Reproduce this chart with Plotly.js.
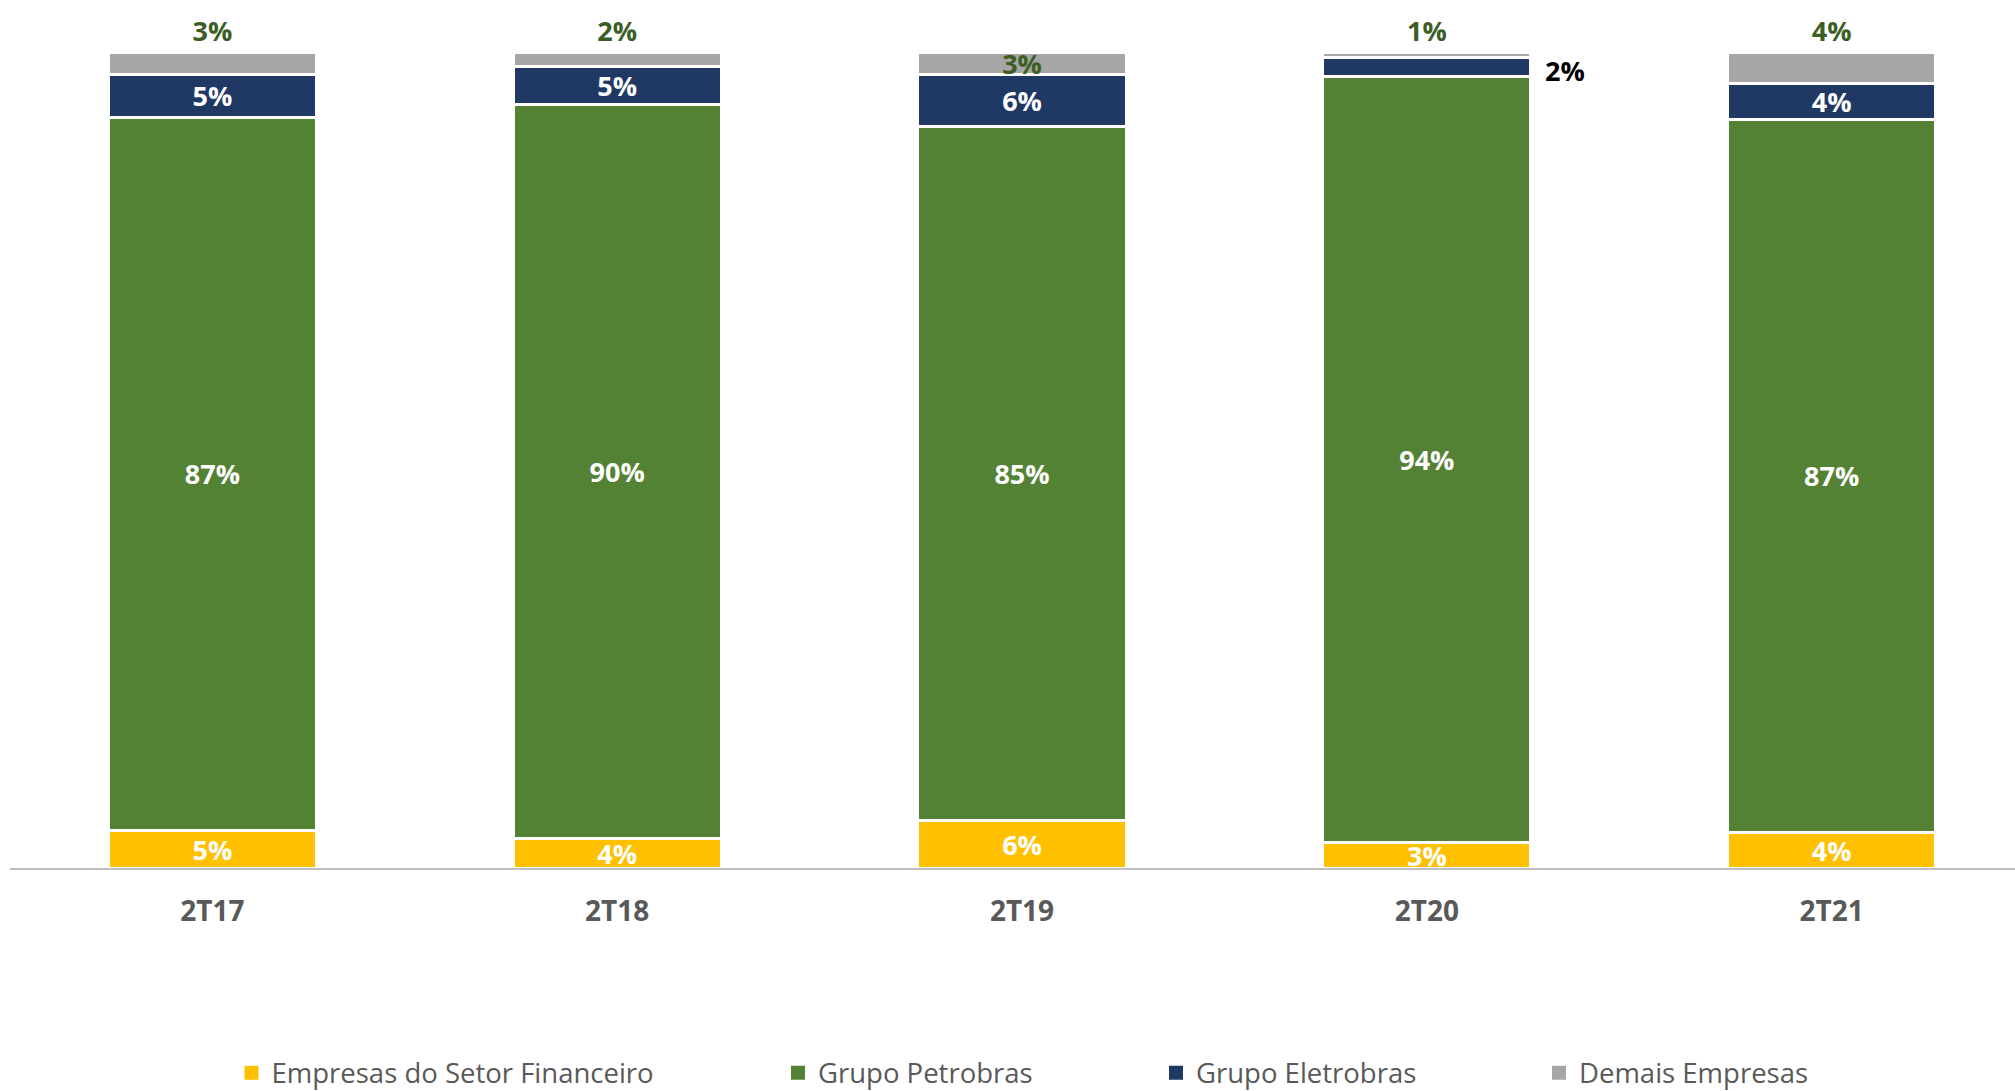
<!DOCTYPE html>
<html><head><meta charset="utf-8">
<script src="https://cdn.plot.ly/plotly-3.0.1.min.js"></script>
<style>html,body{margin:0;padding:0;background:#fff;} #chart{width:2015px;height:1091px;}</style>
</head><body><div id="chart"></div>
<script>
const categories = ['2T17', '2T18', '2T19', '2T20', '2T21'];
const financeiro = [4.625, 3.625, 5.875, 3.125, 4.375];
const petrobras  = [87.375, 90.0, 85.0, 93.875, 87.375];
const eletrobras = [5.25, 4.625, 6.375, 2.375, 4.375];
const demais     = [2.75, 1.75, 2.75, 0.625, 3.875];
const seriesNames = ['Empresas do Setor Financeiro', 'Grupo Petrobras', 'Grupo Eletrobras', 'Demais Empresas'];
const seriesColors = ['#FFC000', '#548235', '#203864', '#A6A6A6'];

const FONT = '"Open Sans", "Noto Sans", sans-serif';
const labelFont = (c) => ({family: FONT, size: 27, color: c, weight: 700});
const plotLeft = 10, plotWidth = 2005;
const legendX = (iconCenter) => (iconCenter - 21 - plotLeft) / plotWidth;

function barTrace(vals, idx, textpos, txtColor) {
  return {
    type: 'bar', x: categories, y: vals, name: seriesNames[idx],
    marker: {color: seriesColors[idx], line: {color: '#FFFFFF', width: 3}},
    width: 0.514,
    texttemplate: '%{y:.0f}%',
    textposition: textpos,
    insidetextanchor: 'middle',
    constraintext: 'none',
    textangle: 0,
    cliponaxis: false,
    textfont: labelFont(txtColor),
    insidetextfont: labelFont(txtColor),
    outsidetextfont: labelFont(txtColor),
    hoverinfo: 'skip',
    showlegend: false
  };
}

// legend keys (square swatches), one per series, each in its own legend box
function legendKey(idx, legendId) {
  return {
    type: 'scatter', mode: 'markers', x: [null], y: [null],
    name: seriesNames[idx],
    marker: {symbol: 'square', size: 14, color: seriesColors[idx]},
    showlegend: true, legend: legendId, hoverinfo: 'skip'
  };
}

const darkGreen = '#3B5E25';
const traces = [
  barTrace(financeiro, 0, 'inside', '#FFFFFF'),
  barTrace(petrobras, 1, 'inside', '#FFFFFF'),
  barTrace(eletrobras, 2, ['inside','inside','inside','none','inside'], '#FFFFFF'),
  barTrace(demais, 3, ['outside','outside','inside','outside','outside'], darkGreen),
  legendKey(0, 'legend'), legendKey(1, 'legend2'), legendKey(2, 'legend3'), legendKey(3, 'legend4')
];

const i20 = categories.indexOf('2T20');
const legFont = {family: FONT, size: 27.5, color: '#595959'};
const legBase = {orientation: 'h', xanchor: 'left', yanchor: 'middle', y: -0.251, font: legFont, bgcolor: 'rgba(0,0,0,0)', borderwidth: 0};

const layout = {
  width: 2015, height: 1091,
  paper_bgcolor: '#FFFFFF', plot_bgcolor: '#FFFFFF',
  margin: {l: plotLeft, r: 0, t: 52, b: 223, autoexpand: false},
  barmode: 'stack',
  showlegend: true,
  xaxis: {
    type: 'category', range: [-0.5, 4.453],
    showline: true, linecolor: '#BFBFBF', linewidth: 2,
    ticks: '', showgrid: false, zeroline: false,
    tickfont: {family: FONT, size: 28, color: '#595959', weight: 700},
    ticklabelstandoff: 17, fixedrange: true
  },
  yaxis: {range: [0, 100], visible: false, fixedrange: true},
  legend: Object.assign({}, legBase, {x: legendX(252.5)}),
  legend2: Object.assign({}, legBase, {x: legendX(799)}),
  legend3: Object.assign({}, legBase, {x: legendX(1177)}),
  legend4: Object.assign({}, legBase, {x: legendX(1560)}),
  annotations: [{
    x: categories[i20],
    y: financeiro[i20] + petrobras[i20] + eletrobras[i20] / 2,
    xref: 'x', yref: 'y',
    text: Math.round(eletrobras[i20]) + '%',
    showarrow: false, xanchor: 'left', yanchor: 'middle',
    xshift: 116, yshift: -4,
    font: labelFont('#000000')
  }]
};

Plotly.newPlot('chart', traces, layout, {displayModeBar: false, staticPlot: true});
</script>
</body></html>
